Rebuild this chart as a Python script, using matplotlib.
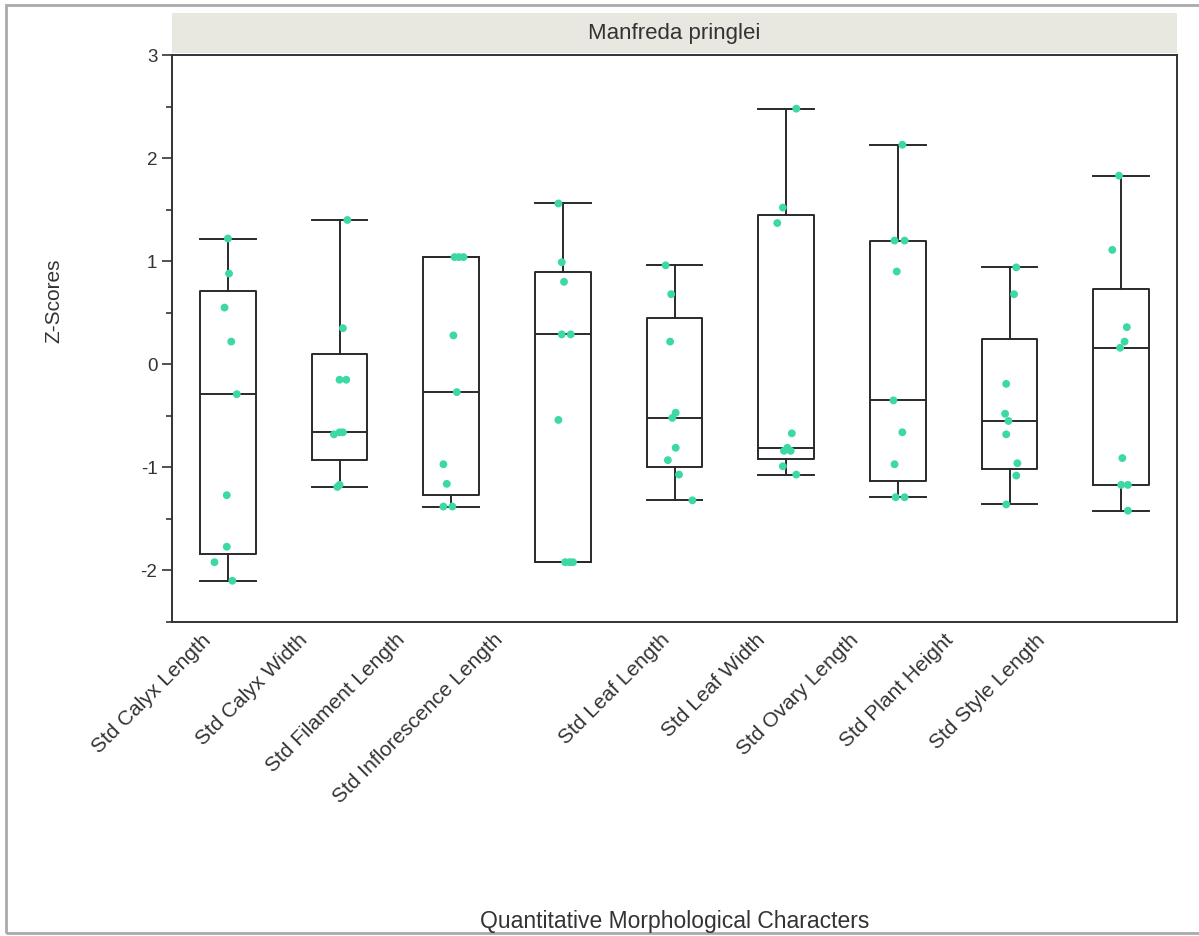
import numpy as np
import matplotlib.pyplot as plt
from matplotlib.patches import Rectangle
from matplotlib.ticker import MultipleLocator
from matplotlib.transforms import ScaledTranslation

plt.rcParams['font.family'] = ['Liberation Sans', 'DejaVu Sans']
plt.rcParams['axes.unicode_minus'] = False

# Z-scores per character (Manfreda pringlei)
characters = ['Std Calyx Length', 'Std Calyx Width', 'Std Filament Length',
              'Std Inflorescence Length', 'Std Leaf Length', 'Std Leaf Width',
              'Std Ovary Length', 'Std Plant Height', 'Std Style Length']

calyx_length = [-2.10, -1.92, -1.77, -1.27, -0.29, 0.22, 0.55, 0.88, 1.22]
calyx_width = [-1.19, -1.17, -0.68, -0.66, -0.66, -0.15, -0.15, 0.35, 1.40]
filament_length = [-1.38, -1.38, -1.16, -0.97, -0.27, 0.28, 1.04, 1.04, 1.04]
inflorescence_length = [-1.92, -1.92, -1.92, -0.54, 0.29, 0.29, 0.80, 0.99, 1.56]
leaf_length = [-1.32, -1.07, -0.93, -0.81, -0.52, -0.47, 0.22, 0.68, 0.96]
leaf_width = [-1.07, -0.99, -0.84, -0.84, -0.81, -0.67, 1.37, 1.52, 2.48]
ovary_length = [-1.29, -1.29, -0.97, -0.66, -0.35, 0.90, 1.20, 1.20, 2.13]
plant_height = [-1.36, -1.08, -0.96, -0.68, -0.55, -0.48, -0.19, 0.68, 0.94]
style_length = [-1.42, -1.17, -1.17, -0.91, 0.16, 0.22, 0.36, 1.11, 1.83]

series = [calyx_length, calyx_width, filament_length, inflorescence_length,
          leaf_length, leaf_width, ovary_length, plant_height, style_length]

# horizontal jitter of the points (category units), as seen in the chart
jitter = [
    [0.04, -0.12, -0.01, -0.01, 0.08, 0.03, -0.03, 0.01, 0.0],
    [-0.02, 0.0, -0.05, 0.03, 0.0, 0.0, 0.06, 0.03, 0.07],
    [-0.07, 0.01, -0.04, -0.07, 0.05, 0.02, 0.03, 0.07, 0.11],
    [0.02, 0.06, 0.09, -0.04, -0.01, 0.07, 0.01, -0.01, -0.04],
    [0.16, 0.04, -0.06, 0.01, -0.02, 0.01, -0.04, -0.03, -0.08],
    [0.09, -0.03, -0.02, 0.04, 0.01, 0.05, -0.08, -0.03, 0.09],
    [-0.02, 0.06, -0.03, 0.04, -0.04, -0.01, -0.03, 0.06, 0.04],
    [-0.03, 0.06, 0.07, -0.03, -0.01, -0.04, -0.03, 0.04, 0.06],
    [0.06, 0.0, 0.06, 0.01, -0.01, 0.03, 0.05, -0.08, -0.02],
]

# the tick labels in the original sit a bit left of their boxes (pixels)
label_shift = [-27, -42, -56, -70, -14, -31, -49, -66, -86]

fig = plt.figure(figsize=(11.99, 9.36), dpi=100)
ax = fig.add_axes([0.1435, 0.3355, 0.8382, 0.6057])

# box statistics (JMP style quantiles)
stats = []
for vals in series:
    v = np.array(vals)
    q1, med, q3 = np.percentile(v, [25, 50, 75], method='weibull')
    stats.append(dict(med=med, q1=q1, q3=q3, whislo=v.min(), whishi=v.max(), fliers=[]))

line_kw = dict(color='#2a2a2a', linewidth=1.4)
ax.bxp(stats, positions=range(len(series)), widths=0.5, showfliers=False,
       boxprops=line_kw, whiskerprops=line_kw, capprops=line_kw,
       medianprops=line_kw, capwidths=0.5)

for i, vals in enumerate(series):
    ax.scatter(np.array(jitter[i]) + i, vals, s=32, color='#3dd9a2',
               edgecolors='none', zorder=3)

ax.set_xlim(-0.5, 8.5)
ax.set_ylim(-2.5, 3)
ax.yaxis.set_major_locator(MultipleLocator(1))
ax.yaxis.set_minor_locator(MultipleLocator(0.5))
ax.tick_params(axis='y', which='major', length=7, width=1.2, labelsize=13.5, colors='#333333')
ax.tick_params(axis='y', which='minor', length=4, width=1.2, color='#333333')
ax.tick_params(axis='x', length=0, pad=6)
ax.set_xticks(range(len(characters)))
ax.set_xticklabels(characters, rotation=45, ha='right', rotation_mode='anchor',
                   fontsize=15, color='#333333')
for lab, dx in zip(ax.get_xticklabels(), label_shift):
    lab.set_transform(lab.get_transform() + ScaledTranslation(dx / 100, 0, fig.dpi_scale_trans))
for s in ax.spines.values():
    s.set_color('#333333')
    s.set_linewidth(1.4)

# header strip
fig.patches.append(Rectangle((0.1435, 0.9434), 0.8382, 0.0427, transform=fig.transFigure,
                             facecolor='#e8e8e0', edgecolor='none'))
fig.text(0.5626, 0.964, 'Manfreda pringlei', ha='center', va='center', fontsize=16, color='#333333')

fig.text(0.045, 0.679, 'Z-Scores', rotation=90, ha='center', va='center', fontsize=15, color='#333333')
fig.text(0.5626, 0.016, 'Quantitative Morphological Characters', ha='center', va='center',
         fontsize=16.5, color='#333333')

# outer screenshot frame
fig.patches.append(Rectangle((0.005, 0.003), 1.2, 0.992, transform=fig.transFigure,
                             facecolor='none', edgecolor='#aaaaaa', linewidth=2))

fig.savefig('out.png', dpi=100)
